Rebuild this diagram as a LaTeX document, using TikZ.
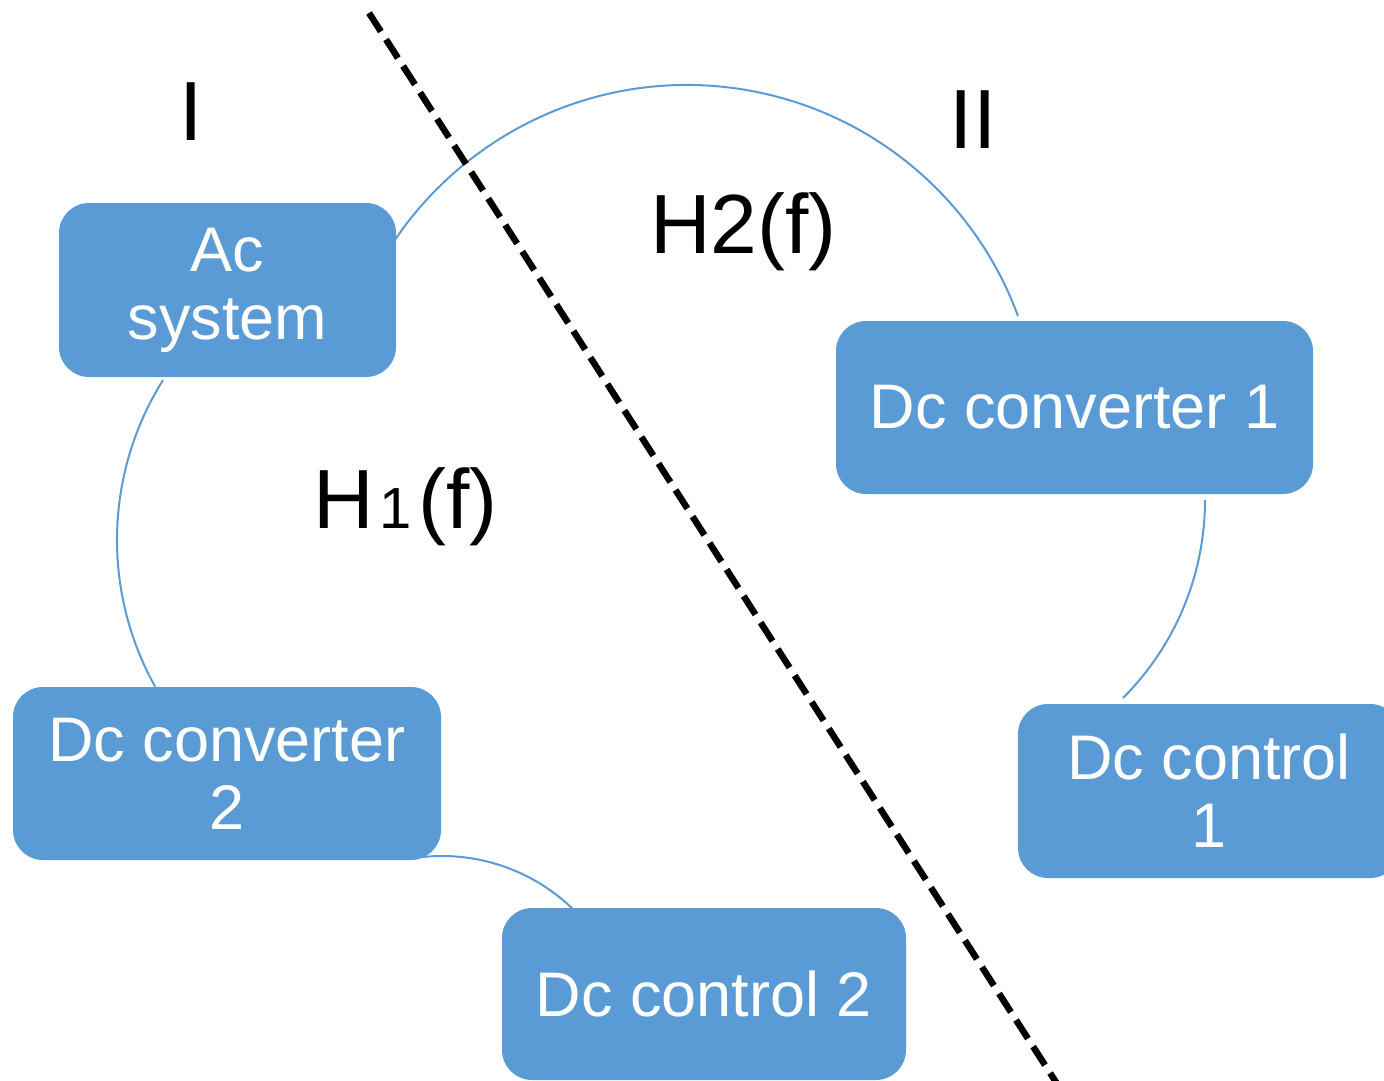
\documentclass[tikz,border=0pt]{standalone}
\usepackage{fontspec}
\setmainfont{Liberation Sans}
\definecolor{boxblue}{HTML}{5B9BD5}
\tikzset{
  block/.style={fill=boxblue, rounded corners=30pt, inner sep=0pt, text=white,
    align=center, font=\fontsize{63}{68}\selectfont},
  link/.style={draw=boxblue, line width=2pt},
  divider/.style={draw=black, line width=6.5pt, dash pattern=on 22pt off 9.5pt},
  region/.style={inner sep=0pt, anchor=base, font=\fontsize{84}{84}\selectfont},
  transfer/.style={inner sep=0pt, anchor=base west, font=\fontsize{84}{84}\selectfont},
}
\begin{document}
\begin{tikzpicture}[x=1pt,y=1pt]
\useasboundingbox (0,0) rectangle (1384,-1081);

% centres of the cycle arcs
\coordinate (ringA) at (687,-437.6);
\coordinate (ringB) at (418,-540);
\coordinate (ringC) at (442,-1044);
\coordinate (ringD) at (925,-500);

% arc ends
\coordinate (acOut)   at ([shift={(169:352.6)}]ringA);
\coordinate (acDown)  at ([shift={(147.9:301)}]ringB);
\coordinate (dccTwo)  at ([shift={(95.8:188)}]ringC);
\coordinate (dccOne)  at ([shift={(0:280)}]ringD);

% connectors
\draw[link] (acOut)  arc[start angle=169,  end angle=20.2,  radius=352.6];
\draw[link] (acDown) arc[start angle=147.9, end angle=209.2, radius=301];
\draw[link] (dccTwo) arc[start angle=95.8, end angle=31,    radius=188];
\draw[link] (dccOne) arc[start angle=0,    end angle=-45,   radius=280];

% blocks
\node[block, minimum width=337pt, minimum height=174pt] (ac)    at (227.5,-290)  {Ac\\system};
\node[block, minimum width=477pt, minimum height=173pt] (dcc1)  at (1074.5,-407.5) {Dc converter 1};
\node[block, minimum width=382pt, minimum height=174pt] (dctl1) at (1209,-791)   {Dc control\\1};
\node[block, minimum width=428pt, minimum height=173pt] (dcc2)  at (227,-773.5)  {Dc converter\\2};
\node[block, minimum width=404pt, minimum height=172pt] (dctl2) at (704,-994)    {Dc control 2};

% dividing line between the two regions
\coordinate (divTop) at (369,-13);
\coordinate (divBot) at (1061,-1090);
\draw[divider] (divTop) -- (divBot);

% region and transfer-function labels
\node[region] (regI)  at (191,-140) {I};
\node[region] (regII) at (973,-148) {II};
\node[transfer] (h2) at (650,-253) {H2(f)};
\node[transfer] (h1) at (313,-528) {H\kern6pt{\fontsize{58}{58}\selectfont 1}\kern6pt(f)};
\end{tikzpicture}
\end{document}
